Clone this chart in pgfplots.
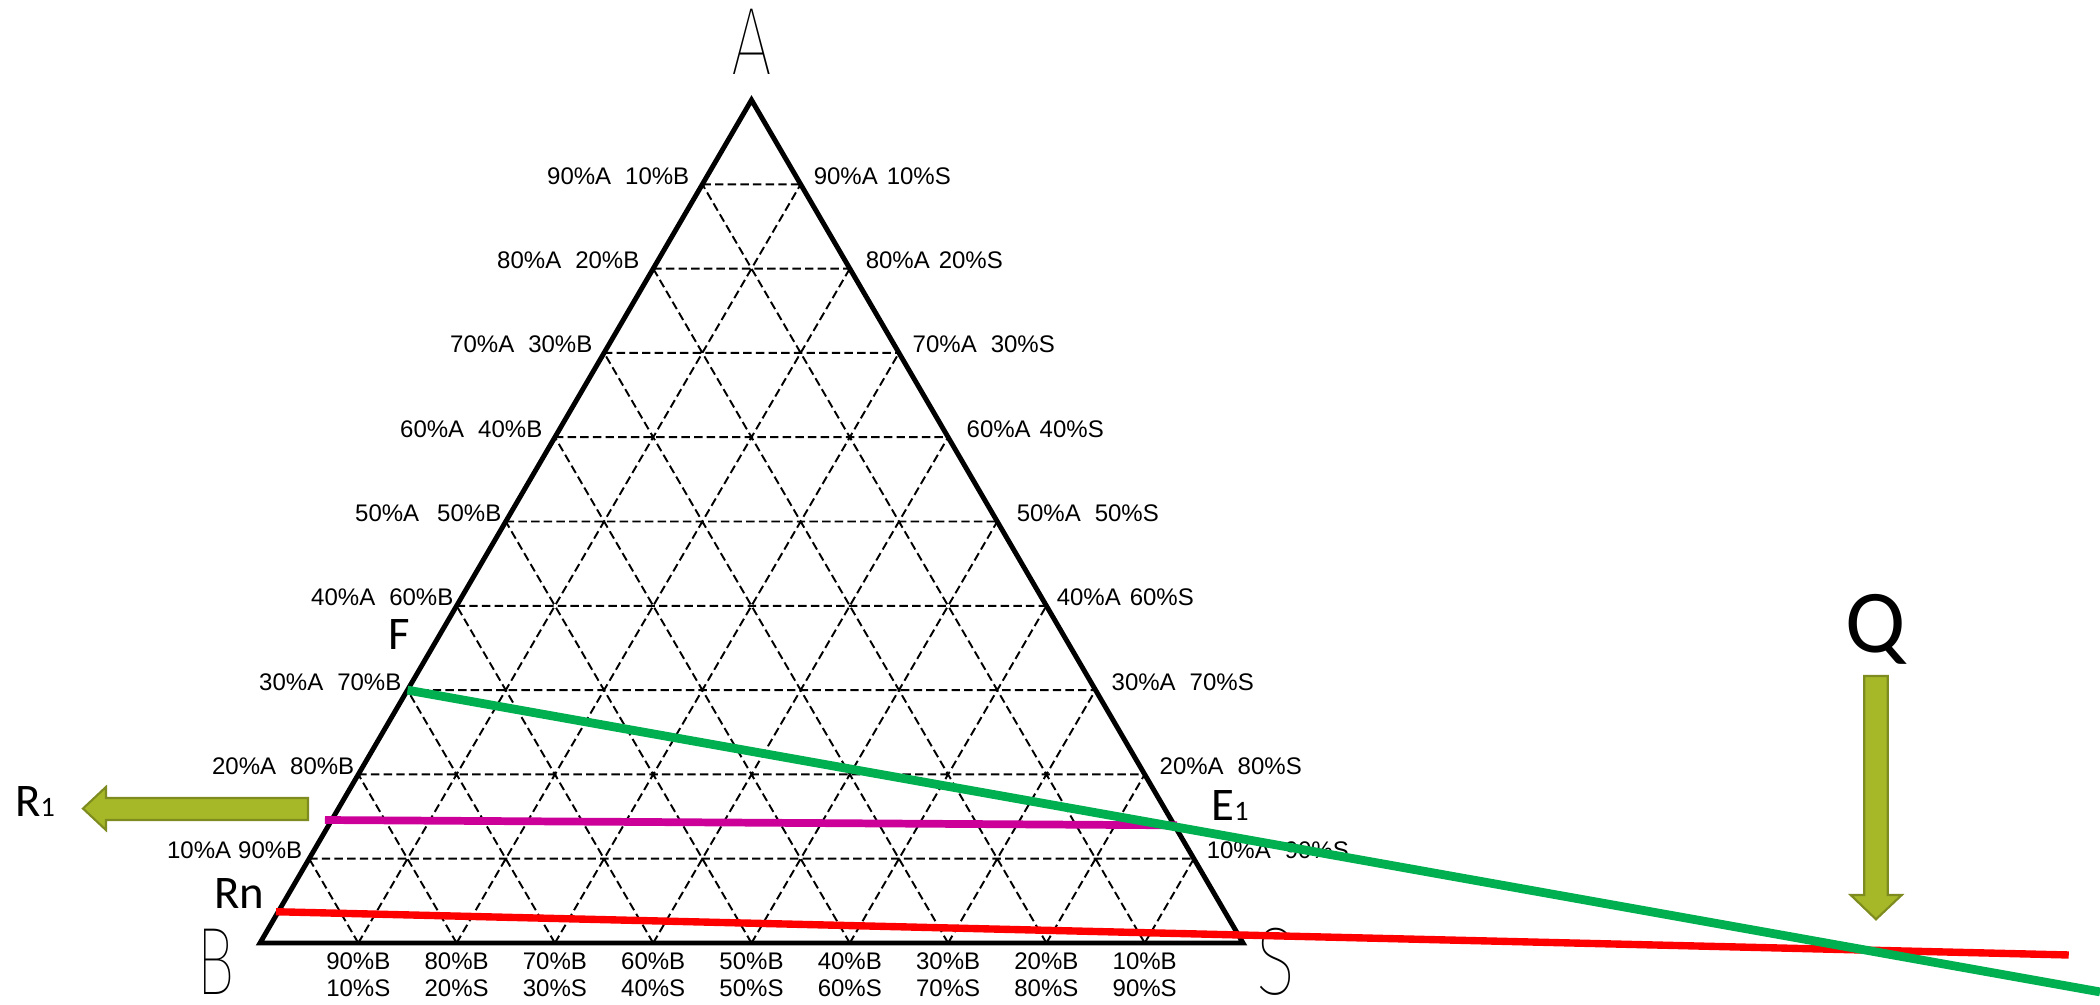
\documentclass[border=0pt]{standalone}
\usepackage{pgfplots}
\pgfplotsset{compat=1.18}
\usepackage{pgfplotstable}
\usepackage{graphicx}
\usepackage{fontspec}
\setmainfont{Liberation Sans}
\newfontfamily\calibri{Carlito}
\IfFontExistsTF{Fira Sans Thin}{%
  \newfontfamily\thinfont{Fira Sans Thin}%
  \newcommand\thinsize{\fontsize{27.3pt}{29pt}\selectfont}%
  \newcommand\scA{0.76}\newcommand\scB{0.68}\newcommand\scS{0.76}}{%
  \IfFontExistsTF{Fira Sans ExtraLight}{%
    \newfontfamily\thinfont{Fira Sans ExtraLight}%
    \newcommand\thinsize{\fontsize{27.3pt}{29pt}\selectfont}%
    \newcommand\scA{0.76}\newcommand\scB{0.68}\newcommand\scS{0.76}}{%
    \newfontfamily\thinfont{Liberation Sans}%
    \newcommand\thinsize{\fontsize{26.3pt}{28pt}\selectfont}%
    \newcommand\scA{0.61}\newcommand\scB{0.6}\newcommand\scS{0.62}}}
\definecolor{lgreen}{HTML}{00B050}
\definecolor{lred}{HTML}{FF0000}
\definecolor{lmag}{HTML}{CC0099}
\definecolor{olivefill}{HTML}{A6B828}
\definecolor{olivedraw}{HTML}{7D8B1F}
\newcommand\gridfont{\fontsize{6.83pt}{7.7pt}\selectfont}
\newcommand\lblfont{\calibri\fontsize{13.3pt}{14pt}\selectfont}
\newcommand\sub[1]{{\fontsize{8pt}{8pt}\selectfont #1}}

% ternary grid: x = S + A/2, y = A
\pgfplotstableread{
x y
0.05 0.1
0.95 0.1
nan nan
0.1 0.2
0.9 0.2
nan nan
0.15 0.3
0.85 0.3
nan nan
0.2 0.4
0.8 0.4
nan nan
0.25 0.5
0.75 0.5
nan nan
0.3 0.6
0.7 0.6
nan nan
0.35 0.7
0.65 0.7
nan nan
0.4 0.8
0.6 0.8
nan nan
0.45 0.9
0.55 0.9
nan nan
0.1 0
0.55 0.9
nan nan
0.2 0
0.6 0.8
nan nan
0.3 0
0.65 0.7
nan nan
0.4 0
0.7 0.6
nan nan
0.5 0
0.75 0.5
nan nan
0.6 0
0.8 0.4
nan nan
0.7 0
0.85 0.3
nan nan
0.8 0
0.9 0.2
nan nan
0.9 0
0.95 0.1
nan nan
0.1 0
0.05 0.1
nan nan
0.2 0
0.1 0.2
nan nan
0.3 0
0.15 0.3
nan nan
0.4 0
0.2 0.4
nan nan
0.5 0
0.25 0.5
nan nan
0.6 0
0.3 0.6
nan nan
0.7 0
0.35 0.7
nan nan
0.8 0
0.4 0.8
nan nan
0.9 0
0.45 0.9
}\gridtable

\pgfplotstableread{
x y
0.15 0.3
0.931 0.1378
1.8718 -0.058
}\greenline

\pgfplotstableread{
x y
0.0163 0.0371
1.8400 -0.0142
}\redline

\pgfplotstableread{
x y
0.0661 0.1459
0.933 0.1396
}\magline

\begin{document}
\begin{tikzpicture}
\begin{axis}[
  name=main,
  width=21cm, height=10.04cm, scale only axis, hide axis,
  xmin=-0.26450, xmax=1.87182, ymin=-0.07236, ymax=1.11862,
  clip=false, unbounded coords=jump]
\path (rel axis cs:0,0) rectangle (rel axis cs:1,1);

% dashed grid
\addplot[black, line width=0.55pt, dash pattern=on 2.4pt off 1.2pt] table {\gridtable};
% triangle
\addplot[black, line width=1.4pt, line join=miter] coordinates {(0,0) (1,0) (0.5,1)} -- cycle;

% left labels
\begin{scope}[every node/.style={anchor=base east, inner sep=0pt, font=\gridfont}]
\node at (axis cs:0.4374,0.9) {90\%A\hspace{0.14cm}10\%B};
\node at (axis cs:0.3866,0.8) {80\%A\hspace{0.14cm}20\%B};
\node at (axis cs:0.3388,0.7) {70\%A\hspace{0.14cm}30\%B};
\node at (axis cs:0.2879,0.6) {60\%A\hspace{0.14cm}40\%B};
\node at (axis cs:0.2462,0.5) {50\%A\hspace{0.18cm}50\%B};
\node at (axis cs:0.1974,0.4) {40\%A\hspace{0.14cm}60\%B};
\node at (axis cs:0.1445,0.3) {30\%A\hspace{0.14cm}70\%B};
\node at (axis cs:0.0966,0.2) {20\%A\hspace{0.14cm}80\%B};
\node at (axis cs:0.0437,0.1) {10\%A\hspace{0.07cm}90\%B};
\end{scope}
% right labels
\begin{scope}[every node/.style={anchor=base west, inner sep=0pt, font=\gridfont}]
\node at (axis cs:0.5626,0.9) {90\%A\hspace{0.09cm}10\%S};
\node at (axis cs:0.6155,0.8) {80\%A\hspace{0.09cm}20\%S};
\node at (axis cs:0.6633,0.7) {70\%A\hspace{0.14cm}30\%S};
\node at (axis cs:0.7182,0.6) {60\%A\hspace{0.09cm}40\%S};
\node at (axis cs:0.7691,0.5) {50\%A\hspace{0.14cm}50\%S};
\node at (axis cs:0.8098,0.4) {40\%A\hspace{0.09cm}60\%S};
\node at (axis cs:0.8657,0.3) {30\%A\hspace{0.14cm}70\%S};
\node at (axis cs:0.9145,0.2) {20\%A\hspace{0.14cm}80\%S};
\node at (axis cs:0.9624,0.1) {10\%A\hspace{0.14cm}90\%S};
\end{scope}
% bottom labels
\begin{scope}[every node/.style={anchor=north, align=center, inner sep=0pt, font=\gridfont}]
\node at (axis cs:0.1,-0.0107) {90\%B\\10\%S};
\node at (axis cs:0.2,-0.0107) {80\%B\\20\%S};
\node at (axis cs:0.3,-0.0107) {70\%B\\30\%S};
\node at (axis cs:0.4,-0.0107) {60\%B\\40\%S};
\node at (axis cs:0.5,-0.0107) {50\%B\\50\%S};
\node at (axis cs:0.6,-0.0107) {40\%B\\60\%S};
\node at (axis cs:0.7,-0.0107) {30\%B\\70\%S};
\node at (axis cs:0.8,-0.0107) {20\%B\\80\%S};
\node at (axis cs:0.9,-0.0107) {10\%B\\90\%S};
\end{scope}

% corner letters
\node[inner sep=0pt, font=\thinfont\thinsize] at (axis cs:0.5005,1.0694) {\scalebox{\scA}[1]{A}};
\node[inner sep=0pt, font=\thinfont\thinsize] at (axis cs:-0.0448,-0.0225) {\scalebox{\scB}[1]{B}};
\node[inner sep=0pt, font=\thinfont\thinsize] at (axis cs:1.0336,-0.0225) {\scalebox{\scS}[1]{S}};

% process lines
\addplot[lred, line width=2.1pt] table {\redline};
\addplot[lmag, line width=2.2pt] table {\magline};
\addplot[lgreen, line width=2.5pt] table {\greenline};

% arrows
\addplot[fill=olivefill, draw=olivedraw, line width=0.6pt] coordinates {
(-0.1801,0.1595) (-0.1567,0.1851) (-0.1567,0.1720) (0.0488,0.1720)
(0.0488,0.1459) (-0.1567,0.1459) (-0.1567,0.1340)} -- cycle;
\addplot[fill=olivefill, draw=olivedraw, line width=0.6pt] coordinates {
(1.6320,0.3167) (1.6559,0.3167) (1.6559,0.0569) (1.6701,0.0569)
(1.6439,0.0281) (1.6182,0.0569) (1.6320,0.0569)} -- cycle;

% point labels
\node[anchor=base, inner sep=0pt, font=\lblfont] at (axis cs:0.1414,0.3476) {F};
\node[anchor=base, inner sep=0pt, font=\lblfont] at (axis cs:-0.0214,0.0415) {Rn};
\node[anchor=base, inner sep=0pt, font=\lblfont] at (axis cs:0.9868,0.1459) {E\sub{1}};
\node[anchor=base, inner sep=0pt, font=\lblfont] at (axis cs:-0.2289,0.1495) {R\sub{1}};
\node[anchor=base, inner sep=0pt, font=\calibri\fontsize{25.5pt}{27pt}\selectfont] at (axis cs:1.6440,0.3452) {Q};
\end{axis}
\pgfresetboundingbox
\path[use as bounding box] (main.south west) rectangle (main.north east);
\end{tikzpicture}
\end{document}
